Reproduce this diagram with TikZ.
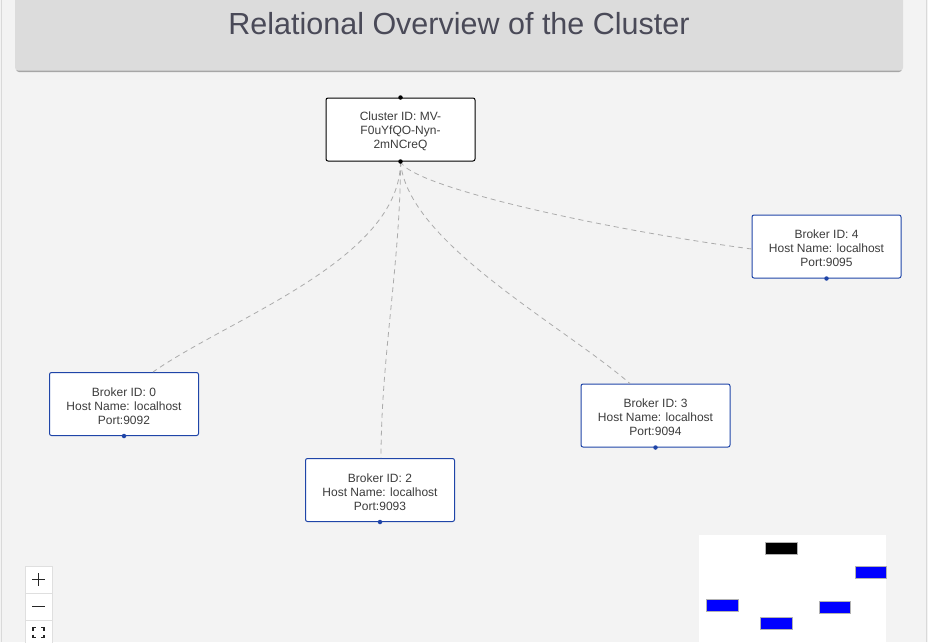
\documentclass[tikz,border=0pt]{standalone}
\usepackage{fontspec}
\setmainfont{Liberation Sans}
\usetikzlibrary{calc}
\definecolor{bg}{HTML}{F3F3F3}
\definecolor{titlebg}{HTML}{DCDCDC}
\definecolor{titletext}{HTML}{4A4A58}
\definecolor{nodetext}{HTML}{3C3C3C}
\definecolor{bblue}{HTML}{1F45A8}
\definecolor{edgegrey}{HTML}{ABABAB}
\tikzset{
  box/.style={draw, fill=white, rounded corners=2pt, minimum width=149pt, minimum height=63pt,
    inner sep=0pt, line width=1pt},
  clusterbox/.style={box, draw=black},
  brokerbox/.style={box, draw=bblue},
  label text/.style={align=center, text=nodetext, font=\fontsize{12}{14}\selectfont, inner sep=0pt},
  link/.style={draw=edgegrey, dash pattern=on 5pt off 4pt, line width=0.8pt},
  kdot/.style={circle, fill=black, inner sep=0pt, minimum size=4.5pt},
  bdot/.style={circle, fill=bblue, inner sep=0pt, minimum size=4.5pt},
  mini/.style={draw=gray!60, line width=0.5pt},
  ctrl/.style={draw=gray!25, fill=white, line width=0.6pt},
  icon/.style={draw=black!85, line width=1.8pt},
}
\begin{document}
\begin{tikzpicture}[x=1pt, y=-1pt]
\useasboundingbox (0,0) rectangle (928,642);
\fill[bg] (0,0) rectangle (928,642);
\draw[gray!30, line width=0.8pt] (1.5,0) -- (1.5,642);
\draw[gray!30, line width=0.8pt] (926.5,0) -- (926.5,642);
% title bar
\fill[gray!70, rounded corners=3pt] (16,-5) rectangle (902,72);
\fill[titlebg, rounded corners=3pt] (15,-5) rectangle (903,70.5);
\node[text=titletext, font=\fontsize{30.5}{34}\selectfont] (title) at (459,24) {Relational Overview of the Cluster};
% boxes
\node[clusterbox] (c) at (400.5,129.5) {};
\node[brokerbox] (b0) at (124,404) {};
\node[brokerbox] (b2) at (380,490) {};
\node[brokerbox] (b3) at (655.5,415.5) {};
\node[brokerbox] (b4) at (826.5,246.5) {};
% texts
\node[label text] (ct) at ([yshift=-2pt]c.center) {Cluster ID: MV-\\F0uYfQO-Nyn-\\2mNCreQ};
\node[label text] (b0t) at ([yshift=-2pt]b0.center) {Broker ID: 0\\Host Name: localhost\\Port:9092};
\node[label text] (b2t) at ([yshift=-2pt]b2.center) {Broker ID: 2\\Host Name: localhost\\Port:9093};
\node[label text] (b3t) at ([yshift=-2pt]b3.center) {Broker ID: 3\\Host Name: localhost\\Port:9094};
\node[label text] (b4t) at ([yshift=-2pt]b4.center) {Broker ID: 4\\Host Name: localhost\\Port:9095};
% edge end points
\coordinate (s) at (c.south);
\coordinate (e0) at ([xshift=29pt]b0.north);
\coordinate (e2) at ([xshift=1pt]b2.north);
\coordinate (e3) at ([xshift=-25.5pt]b3.north);
\coordinate (e4) at ([yshift=-2.5pt]b4.west);
% edges
\path[link] (s) .. controls ($(s)+(0,98)$) and ($(e0)+(77,-54)$) .. (e0);
\path[link] (s) .. controls ($(s)+(0,100)$) and ($(e2)+(0,-100)$) .. (e2);
\path[link] (s) .. controls ($(s)+(6,80)$) and ($(e3)+(-70,-60)$) .. (e3);
\path[link] (s) .. controls ($(s)+(10,25)$) and ($(e4)+(-150,-20)$) .. (e4);
% dots
\node[kdot] at (c.north) {};
\node[kdot] at (c.south) {};
\node[bdot] at (b0.south) {};
\node[bdot] at (b2.south) {};
\node[bdot] at (b3.south) {};
\node[bdot] at (b4.south) {};
% minimap
\fill[white] (699,535) rectangle (886,642);
\filldraw[mini, fill=black] (765,542) rectangle (797,554);
\filldraw[mini, fill=blue] (855,566) rectangle (886,578);
\filldraw[mini, fill=blue] (706,599) rectangle (738,611);
\filldraw[mini, fill=blue] (760,617) rectangle (792,629);
\filldraw[mini, fill=blue] (819,601) rectangle (850,613);
% zoom controls
\path[ctrl] (25,566) rectangle (52,593);
\path[ctrl] (25,593) rectangle (52,620);
\path[ctrl] (25,620) rectangle (52,647);
\draw[icon] (32,579.5) -- (45,579.5) (38.5,573) -- (38.5,586);
\draw[icon] (32,606.5) -- (45,606.5);
\draw[icon, line width=1.5pt] (33,630.5) -- (33,627.5) -- (36,627.5) (41,627.5) -- (44,627.5) -- (44,630.5)
  (33,634.5) -- (33,637.5) -- (36,637.5) (41,637.5) -- (44,637.5) -- (44,634.5);
\end{tikzpicture}
\end{document}
